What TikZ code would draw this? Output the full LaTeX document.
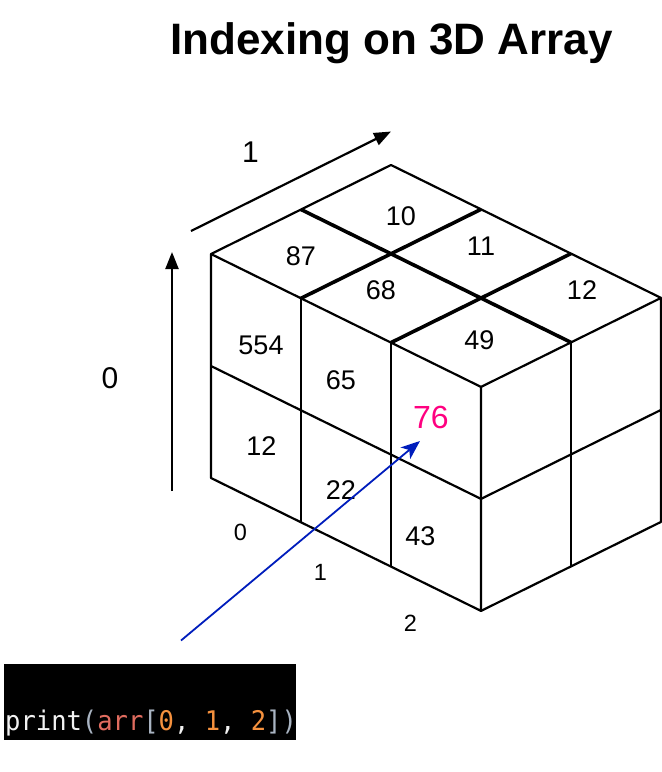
\documentclass[tikz,border=0pt]{standalone}
\usepackage{fontspec}
\setmainfont{Liberation Sans}
\setmonofont{DejaVu Sans Mono}
\usepackage{xcolor}
\usetikzlibrary{arrows.meta}
\usetikzlibrary{calc}
\definecolor{ptrblue}{HTML}{001DBC}
\definecolor{hitpink}{HTML}{FF0080}
\definecolor{codegray}{HTML}{A9B4C2}
\definecolor{codered}{HTML}{E06C5F}
\definecolor{codeorange}{HTML}{F5913E}
\definecolor{codewhite}{HTML}{F2F2F2}
\tikzset{
  edge/.style={line width=2.2pt, line join=round},
  seam/.style={line width=3.6pt, line join=round},
  val/.style={font=\fontsize{27}{27}\selectfont, inner sep=0pt},
  idx/.style={font=\fontsize{23.5}{23.5}\selectfont, inner sep=0pt},
  axislbl/.style={font=\fontsize{30}{30}\selectfont, inner sep=0pt},
  axis/.style={line width=2.2pt, -{Triangle[length=17pt,width=13pt]}},
}

\begin{document}
\begin{tikzpicture}[x=1pt,y=-1pt]
	\useasboundingbox (0,0) rectangle (662,772);
	\node[anchor=base, inner sep=0pt, font=\bfseries\fontsize{44}{44}\selectfont] (title) at (391.5,54.5) {Indexing on 3D Array};

	% the 2x3x2 block
	\coordinate (L) at (211,254);
	\begin{scope}[shift={(L)}, x={(90pt,-44.3pt)}, y={(90pt,44.5pt)}, z={(0pt,-112pt)}]
		% front face
		\draw[edge] (0,0,0) -- (3,0,0) -- (3,0,2) -- (0,0,2) -- cycle;
		\foreach \i in {1,2} \draw[edge] (\i,0,0) -- (\i,0,2);
		\draw[edge] (0,0,1) -- (3,0,1);
		% right face
		\draw[edge] (3,0,0) -- (3,2,0) -- (3,2,2) -- (3,0,2);
		\draw[edge] (3,1,0) -- (3,1,2);
		\draw[edge] (3,0,1) -- (3,2,1);
		% top face
		\draw[edge] (0,0,0) -- (0,2,0) -- (3,2,0);
		\draw[seam] (0,1,0) -- (3,1,0);
		\foreach \i in {1,2} \draw[seam] (\i,0,0) -- (\i,2,0);
	\end{scope}

	% values
	\node[val] (t10) at (401,216.5) {10};
	\node[val] (t87) at (301,256.5) {87};
	\node[val] (t11) at (481,246.5) {11};
	\node[val] (t68) at (381,290) {68};
	\node[val] (t12) at (582,290.5) {12};
	\node[val] (t49) at (479.5,340.5) {49};
	\node[val] (f554) at (261,345.5) {554};
	\node[val] (f65) at (341,380) {65};
	\node[val] (f12) at (261.5,446.5) {12};
	\node[val] (f22) at (341,490.5) {22};
	\node[val] (f43) at (420.5,536) {43};
	\node[val, text=hitpink, font=\fontsize{32}{32}\selectfont] (f76) at (431,417.5) {76};

	% axes
	\coordinate (ax0s) at (172,491);
	\coordinate (ax0e) at (172,252);
	\draw[axis] (ax0s) -- (ax0e);
	\node[axislbl] (lbl0) at (110,378) {0};
	\coordinate (ax1s) at (191,231);
	\coordinate (ax1e) at (391,131.5);
	\draw[axis] (ax1s) -- (ax1e);
	\node[axislbl] (lbl1) at (250.5,152) {1};
	\node[idx] (i0) at (240.5,532.5) {0};
	\node[idx] (i1) at (320.5,572.5) {1};
	\node[idx] (i2) at (410.5,623) {2};

	% code and pointer
	\node[fill=black, inner sep=0pt, minimum width=292pt, minimum height=75.5pt, anchor=north west] (code) at (4,664) {};
	\node[anchor=base west, inner sep=0pt, font=\ttfamily\fontsize{25.5}{25.5}\selectfont, yscale=1.06] (codetxt) at (5,730.5)
		{\textcolor{codewhite}{print}\textcolor{codegray}{(}\textcolor{codered}{arr}\textcolor{codegray}{[}\textcolor{codeorange}{0}\textcolor{codewhite}{,} \textcolor{codeorange}{1}\textcolor{codewhite}{,} \textcolor{codeorange}{2}\textcolor{codegray}{])}};
	\coordinate (ptr) at (181,640.5);
	\coordinate (hit) at (420,441);
	\draw[ptrblue, line width=1.8pt, -{Stealth[length=19pt,width=15pt,inset=5pt]}] (ptr) -- (hit);
\end{tikzpicture}
\end{document}
